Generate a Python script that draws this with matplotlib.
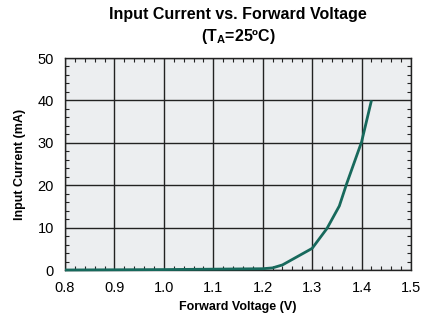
import matplotlib
matplotlib.use("Agg")
import matplotlib.pyplot as plt
from matplotlib.ticker import MultipleLocator

plt.rcParams['font.family'] = ['Liberation Sans', 'DejaVu Sans']
plt.rcParams['mathtext.fontset'] = 'custom'
plt.rcParams['mathtext.rm'] = 'Liberation Sans'
plt.rcParams['mathtext.bf'] = 'Liberation Sans:bold'

voltage = [0.80, 1.00, 1.20, 1.22, 1.24, 1.30, 1.33, 1.355, 1.37, 1.40, 1.42]
current = [0.0, 0.1, 0.3, 0.5, 1.2, 5.1, 9.8, 15.1, 20.4, 30.2, 40.0]

x_ticks = [0.8, 0.9, 1.0, 1.1, 1.2, 1.3, 1.4, 1.5]
x_labels = ["0.8", "0.9", "1.0", "1.1", "1.2", "1.3", "1.4", "1.5"]
y_ticks = [0, 10, 20, 30, 40, 50]

fig = plt.figure(figsize=(4.21, 3.2), dpi=100)
ax = fig.add_axes([65/421, 1-270/320, 346/421, 212/320])
ax.set_facecolor('#eceef0')
ax.plot(voltage, current, color='#17695c', lw=2.0, solid_capstyle='butt', zorder=3, clip_on=False)
ax.set_xlim(0.8, 1.5)
ax.set_ylim(0, 50)
ax.set_xticks(x_ticks)
ax.set_xticklabels(x_labels)
ax.set_yticks(y_ticks)
ax.xaxis.set_minor_locator(MultipleLocator(0.02))
ax.yaxis.set_minor_locator(MultipleLocator(2))
ax.grid(True, which='major', color='#222222', lw=1.0)
ax.tick_params(which='both', direction='in', top=True, right=True, labelsize=10.5, colors='#222222', labelcolor='black')
ax.tick_params(which='major', length=0, pad=8)
ax.tick_params(which='minor', length=3, width=0.8)
for s in ax.spines.values():
    s.set_color('#222222')
    s.set_linewidth(1.0)
ax.set_axisbelow(True)
ax.set_xlabel('Forward Voltage (V)', fontsize=9, fontweight='bold', labelpad=4)
ax.set_ylabel('Input Current (mA)', fontsize=9, fontweight='bold', labelpad=8)
fig.text(238/421, 1-14/320, 'Input Current vs. Forward Voltage', ha='center', va='center', fontsize=11.5, fontweight='bold')
fig.text(238/421, 1-36/320, r'(T$_\mathbf{A}$=25ºC)', ha='center', va='center', fontsize=11.5, fontweight='bold')
fig.savefig('out.png', dpi=100)
